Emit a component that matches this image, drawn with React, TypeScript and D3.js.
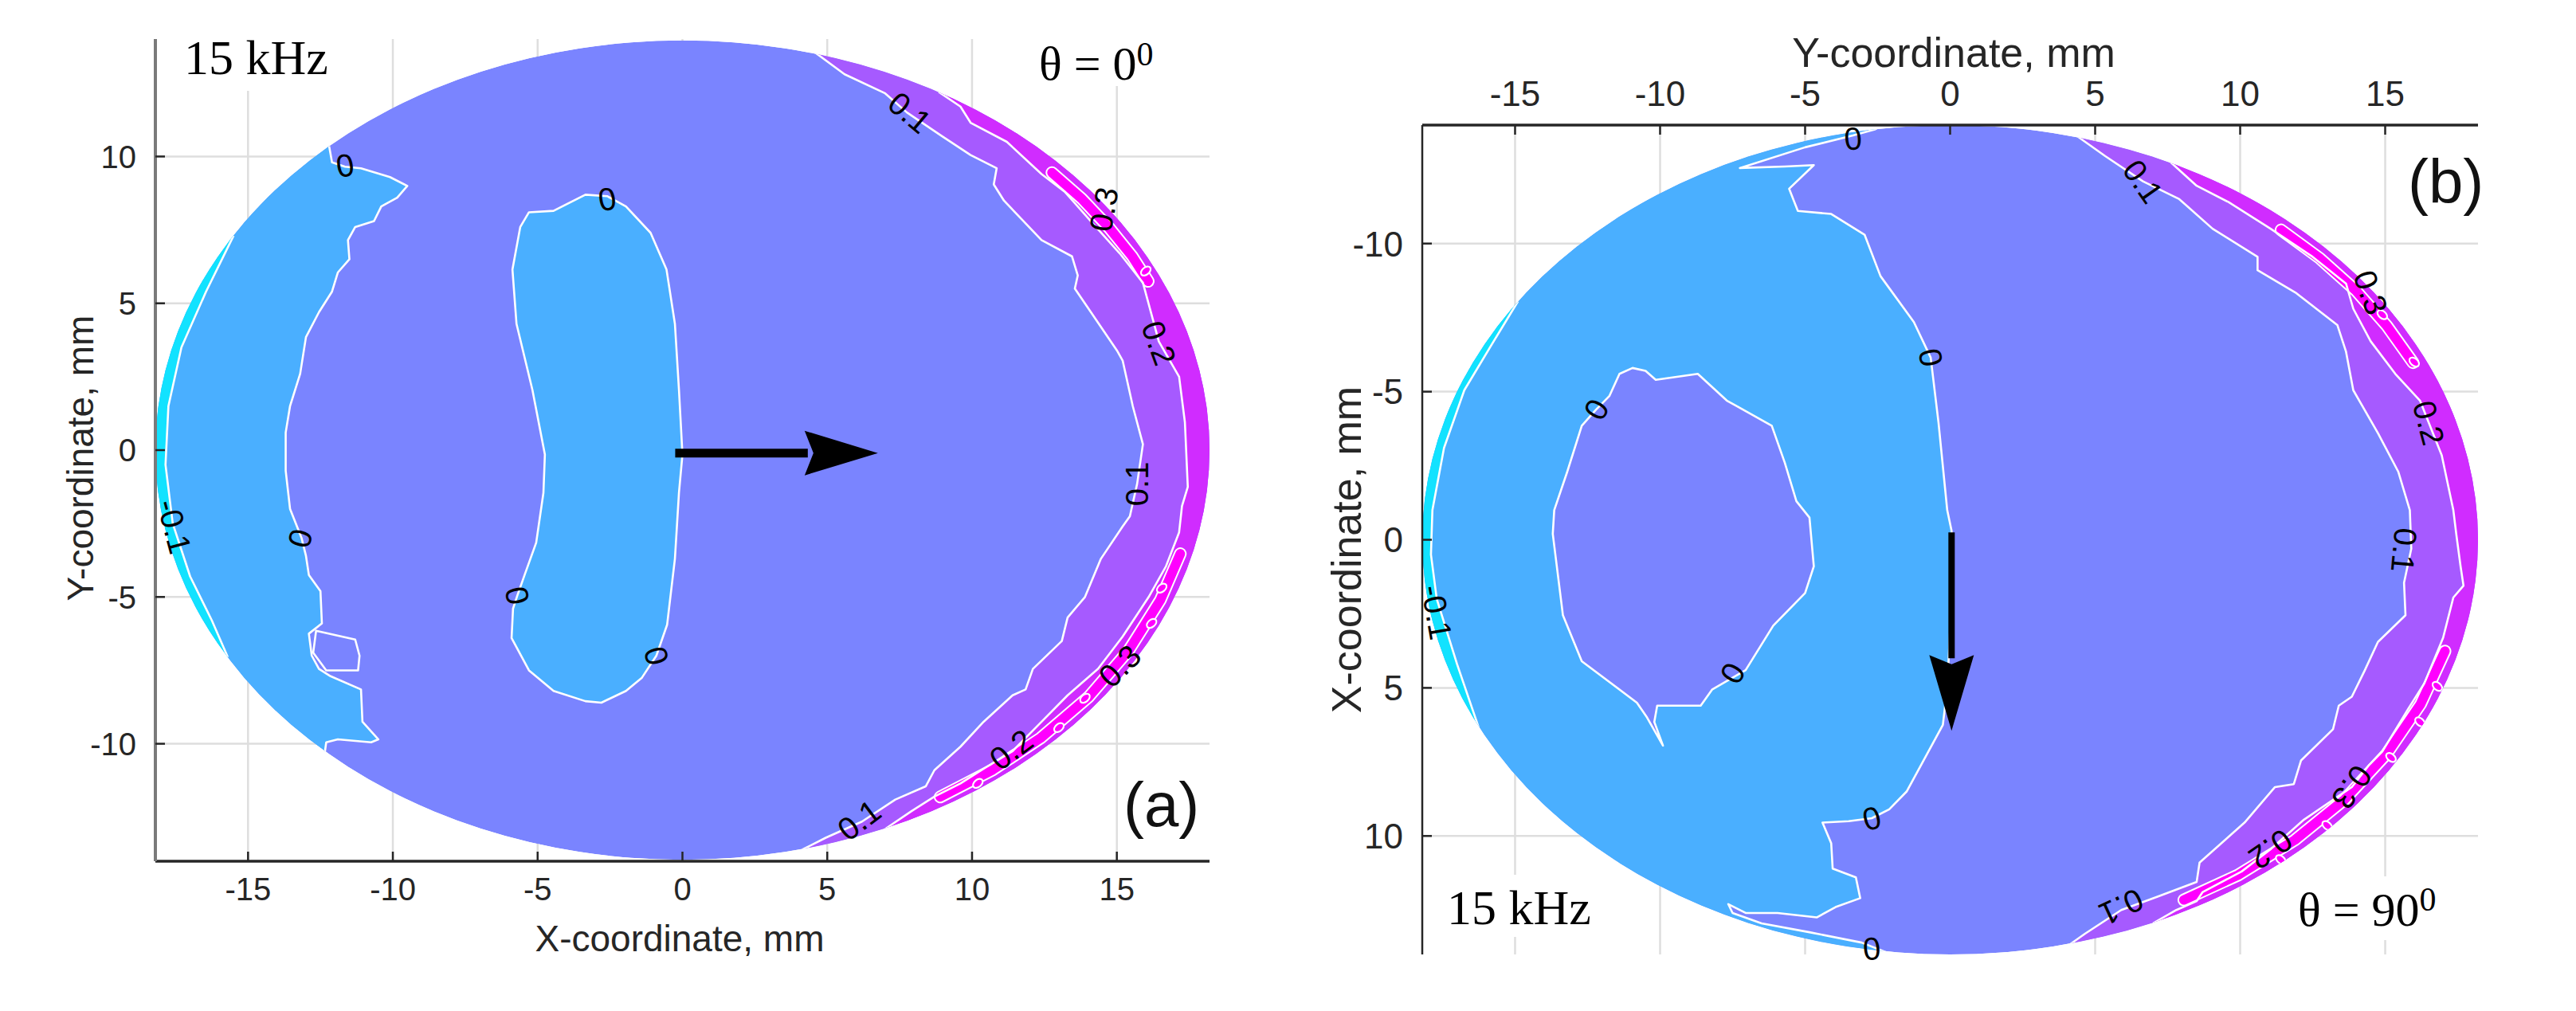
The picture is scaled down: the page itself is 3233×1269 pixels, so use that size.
import React from "react";
import * as d3 from "d3";

type Pt = [number, number];
type Label = { x: number; y: number; text: string; angle: number };

// common axes (mm)
const xTickValues = [-15, -10, -5, 0, 5, 10, 15];
const yTickValues = [-10, -5, 0, 5, 10];
const xExtent = [-18.2, 18.2];
const yExtent = [-14, 14];

// elliptical section, semi-axes in mm
const sectionA = [18.2, 13.95];
const sectionB = [18.2, 14.0];

const bandColor = {
  below: "#12e2ff", // < -0.1
  neg: "#4aafff", // -0.1 .. 0
  zero: "#7a84ff", // 0 .. 0.1
  one: "#a65aff", // 0.1 .. 0.2
  two: "#d02cff", // 0.2 .. 0.3
  three: "#ff00ff", // > 0.3
};

// ---------- panel (a), theta = 0 ----------
const minusA: Pt[] = [
  [-15.5, 7.3], [-16.45, 5.4], [-17.3, 3.5], [-17.75, 1.5], [-17.85, -0.5],
  [-17.6, -2.5], [-17.0, -4.3], [-16.25, -5.8], [-15.7, -7.05],
];
const zeroBandA: Pt[] = [
  [-12.2, 10.35], [-12.1, 9.8], [-11.65, 9.65], [-11.1, 9.6], [-10.1, 9.3], [-9.5, 9.0],
  [-9.85, 8.6], [-10.4, 8.3], [-10.65, 7.8], [-11.3, 7.6], [-11.55, 7.15], [-11.5, 6.5],
  [-11.9, 6.05], [-12.1, 5.4], [-12.55, 4.7], [-13.0, 3.85], [-13.2, 2.6], [-13.55, 1.5],
  [-13.7, 0.6], [-13.7, -0.7], [-13.55, -2.0], [-13.15, -3.0], [-13.0, -3.6], [-12.9, -4.25],
  [-12.5, -4.8], [-12.45, -5.9], [-12.9, -6.25], [-12.8, -7.0], [-12.55, -7.45], [-12.15, -7.7],
  [-11.1, -8.15], [-11.05, -9.25], [-10.5, -9.85], [-10.75, -9.95], [-11.9, -9.85],
  [-12.3, -9.95], [-12.35, -10.3],
];
const zeroLensA: Pt[] = [
  [-12.65, -6.15], [-11.3, -6.45], [-11.15, -7.0], [-11.2, -7.5], [-12.3, -7.5], [-12.75, -6.9],
];
const zeroIslandA: Pt[] = [
  [-5.3, 8.1], [-4.45, 8.15], [-3.35, 8.7], [-2.6, 8.65], [-1.95, 8.3], [-1.1, 7.4],
  [-0.55, 6.15], [-0.26, 4.3], [-0.12, 2.05], [0.0, -0.15], [-0.12, -1.45], [-0.26, -3.7],
  [-0.53, -5.95], [-0.9, -7.0], [-1.4, -7.75], [-1.95, -8.2], [-2.8, -8.6], [-3.35, -8.55],
  [-4.45, -8.2], [-5.3, -7.5], [-5.9, -6.4], [-5.85, -5.4], [-5.7, -4.95], [-5.45, -4.25],
  [-5.05, -3.15], [-4.8, -1.45], [-4.75, -0.15], [-5.18, 2.05], [-5.73, 4.3], [-5.87, 6.15],
  [-5.6, 7.6],
];
const oneA: Pt[] = [
  [4.5, 13.6], [5.6, 12.8], [7.0, 12.15], [7.75, 11.5], [8.95, 10.7], [9.95, 10.05],
  [10.85, 9.6], [10.75, 9.05], [11.1, 8.5], [12.4, 7.15], [13.45, 6.6], [13.65, 5.95],
  [13.55, 5.5], [14.0, 4.85], [15.0, 3.4], [15.2, 3.05], [15.55, 1.5], [15.9, 0.2],
  [15.7, -1.15], [15.45, -2.25], [15.2, -2.6], [14.45, -3.7], [13.9, -5.0], [13.3, -5.7],
  [13.1, -6.5], [12.1, -7.45], [11.85, -8.15], [11.4, -8.35], [10.4, -9.25], [9.6, -10.1],
  [8.7, -10.9], [8.4, -11.45], [7.35, -11.9], [6.2, -12.65], [4.95, -13.2], [4.15, -13.6],
];
const twoA: Pt[] = [
  [8.85, 12.2], [9.6, 11.7], [9.95, 11.15], [11.2, 10.5], [12.4, 9.4], [13.2, 8.8],
  [14.1, 7.8], [15.1, 6.7], [15.9, 5.7], [16.45, 3.7], [17.15, 2.5], [17.35, 0.95],
  [17.45, -1.25], [17.25, -1.9], [17.15, -2.8], [16.7, -3.95], [16.1, -5.0], [15.2, -6.35],
  [14.35, -7.45], [13.3, -8.35], [12.3, -9.35], [11.4, -10.25], [10.4, -10.85], [9.6, -11.35],
  [8.7, -11.8], [7.9, -12.3], [7.0, -12.9],
];
const threeA: Pt[][] = [
  [[12.76, 9.45], [13.79, 8.56], [14.71, 7.6], [15.53, 6.6], [16.08, 5.75]],
  [[17.19, -3.53], [16.5, -5.11], [15.41, -6.82], [14.03, -8.4], [12.36, -9.81], [10.71, -10.89], [8.9, -11.81]],
];
const loopsA: Pt[] = [[16.55, -4.7], [16.2, -5.9], [13.9, -8.45], [13.0, -9.45], [10.2, -11.35], [16.0, 6.1]];
const labelsA: Label[] = [
  { x: -11.65, y: 9.7, text: "0", angle: -10 },
  { x: -2.6, y: 8.55, text: "0", angle: -10 },
  { x: -13.2, y: -3.0, text: "0", angle: -75 },
  { x: -5.7, y: -4.95, text: "0", angle: 80 },
  { x: -0.9, y: -7.0, text: "0", angle: 75 },
  { x: -17.55, y: -2.6, text: "-0.1", angle: 75 },
  { x: 7.85, y: 11.5, text: "0.1", angle: 40 },
  { x: 14.55, y: 8.2, text: "0.3", angle: -80 },
  { x: 16.45, y: 3.65, text: "0.2", angle: 70 },
  { x: 15.7, y: -1.15, text: "0.1", angle: -90 },
  { x: 15.1, y: -7.35, text: "0.3", angle: -45 },
  { x: 11.35, y: -10.2, text: "0.2", angle: -37 },
  { x: 6.1, y: -12.6, text: "0.1", angle: -37 },
];
const arrowA: Pt[] = [[-0.25, -0.1], [6.75, -0.1]];

// ---------- panel (b), theta = 90 ----------
const minusB: Pt[] = [
  [-14.9, -8.05], [-15.8, -6.6], [-16.75, -5.05], [-17.45, -3.1], [-17.85, -1.0],
  [-17.9, 0.5], [-17.7, 2.0], [-17.0, 4.2], [-16.25, 6.35],
];
const zeroMainB: Pt[] = [
  [-2.0, -14.2], [-2.6, -13.85], [-3.35, -13.65], [-5.0, -13.25], [-7.25, -12.55], [-5.7, -12.6],
  [-4.7, -12.65], [-5.55, -11.85], [-5.25, -11.1], [-4.1, -11.0], [-2.95, -10.3], [-2.4, -8.9],
  [-1.25, -7.35], [-0.67, -6.15], [-0.4, -3.95], [-0.1, -1.0], [0.05, -0.3], [0.05, 1.0],
  [0.0, 3.0], [-0.1, 5.0], [-0.25, 6.25], [-0.97, 7.55], [-1.5, 8.5], [-2.1, 9.1], [-2.7, 9.4],
  [-3.5, 9.5], [-4.4, 9.55], [-4.1, 10.25], [-4.05, 11.1], [-3.25, 11.4], [-3.1, 12.1],
  [-3.95, 12.4], [-4.6, 12.75], [-5.95, 12.6], [-7.05, 12.6], [-7.65, 12.3], [-7.5, 12.6],
  [-6.5, 12.95], [-4.85, 13.25], [-3.05, 13.6], [-2.4, 13.85], [-1.5, 14.2],
];
const zeroIslandB: Pt[] = [
  [-12.7, -3.85], [-12.2, -4.4], [-11.75, -4.85], [-11.4, -5.6], [-10.95, -5.8], [-10.5, -5.7],
  [-10.15, -5.4], [-8.7, -5.6], [-7.7, -4.7], [-6.15, -3.85], [-5.7, -2.6], [-5.3, -1.3],
  [-4.85, -0.75], [-4.7, 0.9], [-5.0, 1.8], [-6.1, 2.9], [-7.05, 4.4], [-8.2, 5.05], [-8.6, 5.6],
  [-10.1, 5.6], [-10.2, 6.15], [-9.9, 6.95], [-10.45, 6.0], [-10.8, 5.5], [-12.7, 4.1],
  [-13.35, 2.55], [-13.7, -0.2], [-13.65, -1.0], [-13.2, -2.3],
];
const oneB: Pt[] = [
  [4.2, -13.75], [5.35, -12.95], [6.65, -12.1], [7.9, -11.5], [9.05, -10.5], [10.6, -9.55],
  [10.6, -9.1], [11.9, -8.35], [13.35, -7.25], [13.65, -6.35], [13.9, -5.05], [14.75, -3.6],
  [15.45, -2.3], [15.85, -1.0], [15.9, 0.3], [15.65, 1.45], [15.7, 2.55], [14.75, 3.45],
  [14.3, 4.4], [13.85, 5.3], [13.4, 5.6], [13.2, 6.4], [12.1, 7.45], [11.85, 8.25], [11.2, 8.35],
  [10.15, 9.55], [8.6, 10.9], [8.5, 11.55], [7.15, 12.05], [5.9, 12.5], [4.65, 13.3], [4.0, 13.75],
];
const twoB: Pt[] = [
  [7.6, -12.75], [8.5, -11.95], [9.6, -11.4], [11.05, -10.5], [12.5, -9.55], [13.65, -8.65],
  [13.9, -7.8], [14.5, -6.7], [15.35, -5.6], [16.2, -4.7], [16.95, -2.85], [17.35, -1.0],
  [17.45, -0.2], [17.6, 0.9], [17.7, 1.55], [17.35, 1.95], [17.0, 3.3], [16.35, 4.85],
  [15.8, 5.7], [14.9, 7.15], [14.45, 7.6], [13.85, 8.35], [12.2, 9.45], [11.05, 10.45],
  [10.05, 11.2], [8.7, 11.9], [8.5, 12.2], [7.8, 12.5], [7.0, 12.95],
];
const threeB: Pt[][] = [
  [[11.41, -10.46], [12.76, -9.49], [13.99, -8.41], [15.05, -7.23], [15.96, -5.98]],
  [[17.06, 3.76], [16.22, 5.55], [15.05, 7.23], [13.6, 8.77], [11.88, 10.14], [9.93, 11.32], [8.06, 12.16]],
];
const loopsB: Pt[] = [[16.8, 4.95], [16.2, 6.15], [15.2, 7.35], [13.0, 9.65], [11.4, 10.8], [14.9, -7.6], [16.0, -6.0]];
const labelsB: Label[] = [
  { x: -3.35, y: -13.55, text: "0", angle: -5 },
  { x: -0.67, y: -6.15, text: "0", angle: 80 },
  { x: -12.2, y: -4.4, text: "0", angle: -60 },
  { x: -7.5, y: 4.5, text: "0", angle: -60 },
  { x: -2.7, y: 9.4, text: "0", angle: -15 },
  { x: -2.7, y: 13.8, text: "0", angle: -5 },
  { x: -17.7, y: 2.45, text: "-0.1", angle: 80 },
  { x: 6.65, y: -12.1, text: "0.1", angle: 55 },
  { x: 14.5, y: -8.35, text: "0.3", angle: 70 },
  { x: 16.5, y: -3.95, text: "0.2", angle: 75 },
  { x: 15.65, y: 0.35, text: "0.1", angle: 95 },
  { x: 13.85, y: 8.35, text: "0.3", angle: 125 },
  { x: 11.05, y: 10.45, text: "0.2", angle: 145 },
  { x: 5.9, y: 12.4, text: "0.1", angle: 155 },
];
const arrowB: Pt[] = [[0.05, -0.25], [0.05, 6.45]];

// close a contour polyline through points far outside the section
function closeOut(pts: Pt[], side: "left" | "right"): Pt[] {
  const f = pts[0];
  const l = pts[pts.length - 1];
  const sx = side === "right" ? 30 : -30;
  const fy = Math.sign(f[1]) * 30;
  const ly = Math.sign(l[1]) * 30;
  return [...pts, [l[0], ly], [sx, ly], [sx, fy], [f[0], fy]];
}

const sans = "'Liberation Sans', Arial, Helvetica, sans-serif";
const serif = "'Liberation Serif', 'Times New Roman', serif";

function Panel({ cfg }: { cfg: any }) {
  const x = d3.scaleLinear().domain(xExtent).range([cfg.left, cfg.right]);
  const y = d3
    .scaleLinear()
    .domain(yExtent)
    .range(cfg.flipY ? [cfg.top, cfg.bottom] : [cfg.bottom, cfg.top]);
  const line = d3
    .line<Pt>()
    .x((d) => x(d[0]))
    .y((d) => y(d[1]));
  const closed = (pts: Pt[]) => line(pts) + "Z";
  const region = (pts: Pt[], side: "left" | "right") => closed(closeOut(pts, side));
  const clipId = `clip-${cfg.id}`;
  const [rx, ry] = cfg.section;
  const cx = x(0);
  const cy = y(0);
  const erx = Math.abs(x(rx) - x(0));
  const ery = Math.abs(y(ry) - y(0));
  const axisY = cfg.xAxisTop ? cfg.top : cfg.bottom;
  const tickDir = cfg.xAxisTop ? 1 : -1;
  const white = { fill: "none", stroke: "#ffffff", strokeWidth: 2.6, strokeLinejoin: "round" as const };

  // arrow
  const [a0, a1] = cfg.arrow;
  const p0 = [x(a0[0]), y(a0[1])];
  const p1 = [x(a1[0]), y(a1[1])];
  const len = Math.hypot(p1[0] - p0[0], p1[1] - p0[1]);
  const u = [(p1[0] - p0[0]) / len, (p1[1] - p0[1]) / len];
  const n = [-u[1], u[0]];
  const hl = cfg.headLen;
  const hw = cfg.headHalf;
  const base = [p1[0] - u[0] * hl, p1[1] - u[1] * hl];
  const head = [
    p1,
    [base[0] + n[0] * hw, base[1] + n[1] * hw],
    [base[0] + u[0] * hl * 0.12, base[1] + u[1] * hl * 0.12],
    [base[0] - n[0] * hw, base[1] - n[1] * hw],
  ];

  return (
    <g>
      <defs>
        <clipPath id={clipId}>
          <ellipse cx={cx} cy={cy} rx={erx} ry={ery} />
        </clipPath>
      </defs>
      {/* grid */}
      {xTickValues.map((v) => (
        <line key={"gx" + v} x1={x(v)} x2={x(v)} y1={cfg.top} y2={cfg.bottom} stroke="#dedede" strokeWidth={2.5} />
      ))}
      {yTickValues.map((v) => (
        <line key={"gy" + v} x1={cfg.left} x2={cfg.right} y1={y(v)} y2={y(v)} stroke="#dedede" strokeWidth={2.5} />
      ))}

      {/* filled contours */}
      <g clipPath={`url(#${clipId})`}>
        <ellipse cx={cx} cy={cy} rx={erx} ry={ery} fill={bandColor.zero} />
        <path d={region(cfg.zeroBand, "left")} fill={bandColor.neg} />
        <path d={closed(cfg.island)} fill={cfg.islandColor} />
        <path d={region(cfg.minus, "left")} fill={bandColor.below} />
        <path d={region(cfg.one, "right")} fill={bandColor.one} />
        <path d={region(cfg.two, "right")} fill={bandColor.two} />
        {cfg.three.map((s: Pt[], i: number) => (
          <g key={"s" + i}>
            <path d={line(s) || ""} fill="none" stroke="#ffffff" strokeWidth={16} strokeLinecap="round" strokeLinejoin="round" />
            <path d={line(s) || ""} fill="none" stroke={bandColor.three} strokeWidth={12} strokeLinecap="round" strokeLinejoin="round" />
          </g>
        ))}
        {cfg.loops.map((p: Pt, i: number) => (
          <ellipse key={"l" + i} cx={x(p[0])} cy={y(p[1])} rx={7} ry={4.5} fill={bandColor.three} stroke="#ffffff" strokeWidth={2.2}
            transform={`rotate(${cfg.loopAngle} ${x(p[0])} ${y(p[1])})`} />
        ))}
        <path d={line(cfg.minus) || ""} {...white} />
        <path d={line(cfg.zeroBand) || ""} {...white} />
        <path d={closed(cfg.island)} {...white} />
        {cfg.lens && <path d={closed(cfg.lens)} {...white} />}
        <path d={line(cfg.one) || ""} {...white} />
        <path d={line(cfg.two) || ""} {...white} />
      </g>

      {/* contour labels */}
      {cfg.labels.map((lb: Label, i: number) => (
        <text key={"cl" + i} x={0} y={0} fontFamily={sans} fontSize={40} fill="#000" textAnchor="middle" dominantBaseline="central"
          transform={`translate(${x(lb.x)},${y(lb.y)}) rotate(${lb.angle})`}>
          {lb.text}
        </text>
      ))}

      {/* arrow */}
      <line x1={p0[0]} y1={p0[1]} x2={base[0] + u[0] * 4} y2={base[1] + u[1] * 4} stroke="#000" strokeWidth={cfg.shaft} />
      <polygon points={head.map((p) => p.join(",")).join(" ")} fill="#000" />

      {/* axes */}
      <line x1={cfg.left} x2={cfg.right} y1={axisY} y2={axisY} stroke="#262626" strokeWidth={3.5} />
      <line x1={cfg.left} x2={cfg.left} y1={cfg.top} y2={cfg.bottom} stroke={cfg.yAxisColor} strokeWidth={cfg.yAxisWidth} />
      {xTickValues.map((v) => (
        <g key={"tx" + v}>
          <line x1={x(v)} x2={x(v)} y1={axisY} y2={axisY + tickDir * 12} stroke="#262626" strokeWidth={2.5} />
          <text x={x(v)} y={cfg.xAxisTop ? axisY - 24 : axisY + 49} fontFamily={sans} fontSize={cfg.tickFont} fill="#262626" textAnchor="middle">
            {v}
          </text>
        </g>
      ))}
      {yTickValues.map((v) => (
        <g key={"ty" + v}>
          <line x1={cfg.left} x2={cfg.left + 12} y1={y(v)} y2={y(v)} stroke="#262626" strokeWidth={2.5} />
          <text x={cfg.left - 24} y={y(v) + cfg.tickFont * 0.36} fontFamily={sans} fontSize={cfg.tickFont} fill="#262626" textAnchor="end">
            {v}
          </text>
        </g>
      ))}
      <text x={cfg.xTitle[0]} y={cfg.xTitle[1]} fontFamily={sans} fontSize={cfg.titleFont} fill="#262626" textAnchor="middle">
        {cfg.xTitleText}
      </text>
      <text x={0} y={0} fontFamily={sans} fontSize={cfg.titleFont} fill="#262626" textAnchor="middle"
        transform={`translate(${cfg.yTitle[0]},${cfg.yTitle[1]}) rotate(-90)`}>
        {cfg.yTitleText}
      </text>
    </g>
  );
}

export default function App() {
  const W = 3233;
  const H = 1269;
  const cfgA = {
    id: "a", left: 195, right: 1518, top: 49, bottom: 1081, flipY: false, xAxisTop: false,
    section: sectionA, minus: minusA, zeroBand: zeroBandA, lens: zeroLensA, island: zeroIslandA,
    islandColor: bandColor.neg, one: oneA, two: twoA, three: threeA, loops: loopsA, loopAngle: -40,
    labels: labelsA, arrow: arrowA, headLen: 92, headHalf: 28, shaft: 11,
    yAxisColor: "#7a7a7a", yAxisWidth: 4, tickFont: 40, titleFont: 46,
    xTitle: [853, 1194], xTitleText: "X-coordinate, mm",
    yTitle: [117, 575], yTitleText: "Y-coordinate, mm",
  };
  const cfgB = {
    id: "b", left: 1785, right: 3110, top: 157, bottom: 1198, flipY: true, xAxisTop: true,
    section: sectionB, minus: minusB, zeroBand: zeroMainB, lens: null, island: zeroIslandB,
    islandColor: bandColor.zero, one: oneB, two: twoB, three: threeB, loops: loopsB, loopAngle: 40,
    labels: labelsB, arrow: arrowB, headLen: 95, headHalf: 28, shaft: 8,
    yAxisColor: "#262626", yAxisWidth: 2.5, tickFont: 44, titleFont: 52,
    xTitle: [2452, 84], xTitleText: "Y-coordinate, mm",
    yTitle: [1708, 690], yTitleText: "X-coordinate, mm",
  };

  return (
    <svg width={W} height={H} viewBox={`0 0 ${W} ${H}`} style={{ position: "absolute", left: 0, top: 0, background: "#fff" }}>
      <rect x={0} y={0} width={W} height={H} fill="#fff" />
      <Panel cfg={cfgA} />
      <Panel cfg={cfgB} />

      {/* annotations, panel (a) */}
      <rect x={222} y={40} width={196} height={74} fill="#fff" />
      <text x={231} y={93} fontFamily={serif} fontSize={62} fill="#000">15 kHz</text>
      <rect x={1295} y={40} width={176} height={68} fill="#fff" />
      <text x={1304} y={100} fontFamily={serif} fontSize={60} fill="#000">
        θ = 0<tspan dy={-18} fontSize={42}>0</tspan>
      </text>
      <text x={1410} y={1037} fontFamily={sans} fontSize={78} fill="#111">(a)</text>

      {/* annotations, panel (b) */}
      <rect x={1808} y={1098} width={196} height={78} fill="#fff" />
      <text x={1816} y={1160} fontFamily={serif} fontSize={62} fill="#000">15 kHz</text>
      <rect x={2875} y={1100} width={210} height={80} fill="#fff" />
      <text x={2884} y={1162} fontFamily={serif} fontSize={60} fill="#000">
        θ = 90<tspan dy={-19} fontSize={42}>0</tspan>
      </text>
      <text x={3022} y={255} fontFamily={sans} fontSize={78} fill="#111">(b)</text>
    </svg>
  );
}
